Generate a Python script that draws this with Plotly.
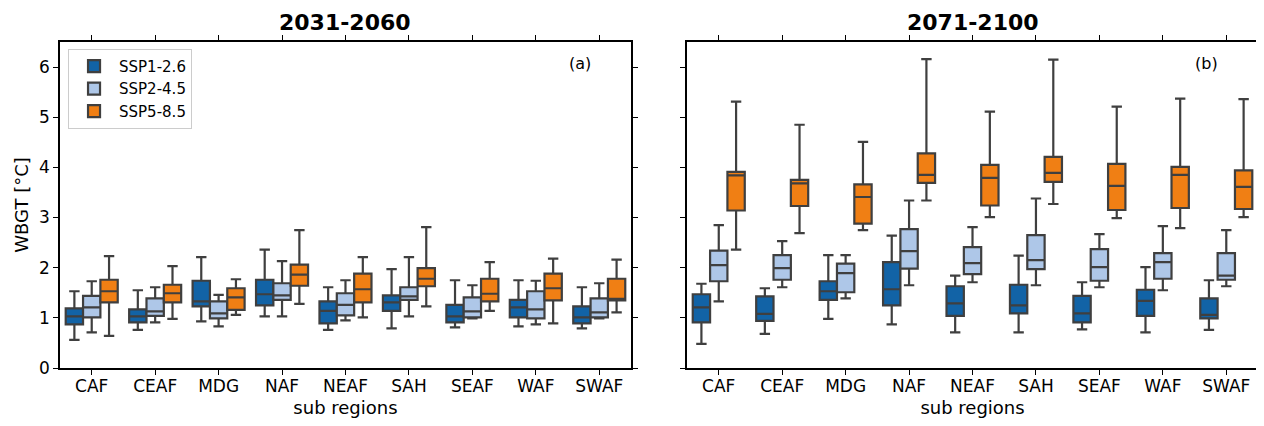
import plotly.graph_objects as go

regions = ["CAF", "CEAF", "MDG", "NAF", "NEAF", "SAH", "SEAF", "WAF", "SWAF"]
scenarios = ["SSP1-2.6", "SSP2-4.5", "SSP5-8.5"]
colors = ["#1263a6", "#aec7e8", "#f07f14"]
periods = ["2031-2060", "2071-2100"]

# ---- 2031-2060 ----
p1_ssp126_low = [0.56, 0.76, 0.93, 1.03, 0.76, 0.79, 0.81, 0.83, 0.79]
p1_ssp126_q1 = [0.87, 0.91, 1.23, 1.25, 0.89, 1.14, 0.91, 1.01, 0.89]
p1_ssp126_med = [1.03, 1.03, 1.33, 1.47, 1.14, 1.31, 1.03, 1.21, 1.01]
p1_ssp126_q3 = [1.19, 1.17, 1.74, 1.76, 1.33, 1.45, 1.26, 1.36, 1.23]
p1_ssp126_high = [1.53, 1.55, 2.21, 2.36, 1.61, 1.97, 1.75, 1.75, 1.61]

p1_ssp245_low = [0.71, 0.91, 0.83, 1.03, 0.95, 1.03, 0.99, 0.87, 0.99]
p1_ssp245_q1 = [1.01, 1.04, 0.99, 1.36, 1.05, 1.36, 1.01, 0.99, 1.01]
p1_ssp245_med = [1.21, 1.13, 1.09, 1.45, 1.26, 1.43, 1.13, 1.17, 1.11]
p1_ssp245_q3 = [1.44, 1.39, 1.33, 1.69, 1.49, 1.61, 1.41, 1.53, 1.39]
p1_ssp245_high = [1.73, 1.61, 1.46, 2.13, 1.75, 2.21, 1.65, 1.74, 1.69]

p1_ssp585_low = [0.64, 0.98, 1.06, 1.28, 1.01, 1.23, 1.14, 0.89, 1.11]
p1_ssp585_q1 = [1.31, 1.31, 1.16, 1.64, 1.31, 1.63, 1.33, 1.35, 1.35]
p1_ssp585_med = [1.53, 1.49, 1.41, 1.86, 1.57, 1.78, 1.48, 1.59, 1.38]
p1_ssp585_q3 = [1.76, 1.66, 1.59, 2.06, 1.88, 1.99, 1.78, 1.88, 1.78]
p1_ssp585_high = [2.23, 2.03, 1.77, 2.75, 2.21, 2.81, 2.11, 2.18, 2.16]

# ---- 2071-2100 ----
p2_ssp126_low = [0.48, 0.68, 0.98, 0.87, 0.71, 0.71, 0.77, 0.71, 0.76]
p2_ssp126_q1 = [0.91, 0.94, 1.36, 1.25, 1.04, 1.09, 0.91, 1.04, 0.99]
p2_ssp126_med = [1.21, 1.08, 1.53, 1.57, 1.29, 1.25, 1.09, 1.34, 1.06]
p2_ssp126_q3 = [1.47, 1.43, 1.73, 2.11, 1.63, 1.66, 1.44, 1.56, 1.39]
p2_ssp126_high = [1.68, 1.59, 2.25, 2.64, 1.84, 2.24, 1.71, 2.01, 1.75]

p2_ssp245_low = [1.33, 1.61, 1.39, 1.65, 1.71, 1.65, 1.61, 1.55, 1.63]
p2_ssp245_q1 = [1.73, 1.76, 1.51, 1.98, 1.87, 1.97, 1.74, 1.78, 1.76]
p2_ssp245_med = [2.05, 1.99, 1.89, 2.33, 2.09, 2.15, 2.01, 2.11, 1.84]
p2_ssp245_q3 = [2.34, 2.25, 2.08, 2.77, 2.41, 2.65, 2.37, 2.29, 2.29]
p2_ssp245_high = [2.85, 2.53, 2.25, 3.34, 2.81, 3.38, 2.67, 2.83, 2.75]

p2_ssp585_low = [2.36, 2.69, 2.75, 3.34, 3.01, 3.27, 2.99, 2.79, 3.01]
p2_ssp585_q1 = [3.14, 3.23, 2.88, 3.69, 3.24, 3.71, 3.15, 3.19, 3.17]
p2_ssp585_med = [3.84, 3.68, 3.41, 3.85, 3.79, 3.89, 3.63, 3.85, 3.61]
p2_ssp585_q3 = [3.91, 3.75, 3.66, 4.28, 4.05, 4.21, 4.07, 4.01, 3.94]
p2_ssp585_high = [5.31, 4.85, 4.51, 6.16, 5.11, 6.15, 5.21, 5.37, 5.36]

data = {
    0: [
        (p1_ssp126_low, p1_ssp126_q1, p1_ssp126_med, p1_ssp126_q3, p1_ssp126_high),
        (p1_ssp245_low, p1_ssp245_q1, p1_ssp245_med, p1_ssp245_q3, p1_ssp245_high),
        (p1_ssp585_low, p1_ssp585_q1, p1_ssp585_med, p1_ssp585_q3, p1_ssp585_high),
    ],
    1: [
        (p2_ssp126_low, p2_ssp126_q1, p2_ssp126_med, p2_ssp126_q3, p2_ssp126_high),
        (p2_ssp245_low, p2_ssp245_q1, p2_ssp245_med, p2_ssp245_q3, p2_ssp245_high),
        (p2_ssp585_low, p2_ssp585_q1, p2_ssp585_med, p2_ssp585_q3, p2_ssp585_high),
    ],
}

FONT = "DejaVu Sans"
EDGE = "#3f3f3f"

fig = go.Figure()
for p in range(2):
    xa = "x" if p == 0 else "x2"
    ya = "y" if p == 0 else "y2"
    for s, name in enumerate(scenarios):
        low, q1, med, q3, high = data[p][s]
        fig.add_trace(go.Box(
            name=name, x=regions, q1=q1, median=med, q3=q3,
            lowerfence=low, upperfence=high,
            boxpoints=False, fillcolor=colors[s],
            line=dict(color=EDGE, width=2.2), whiskerwidth=0.6,
            offsetgroup=str(s), legendgroup=name, showlegend=(p == 0),
            xaxis=xa, yaxis=ya, hoverinfo="skip",
        ))

axis_common = dict(showline=True, linecolor="black", linewidth=1.5, mirror="ticks",
                   ticks="outside", ticklen=5, tickwidth=1.2, tickcolor="black",
                   showgrid=False, zeroline=False,
                   tickfont=dict(family=FONT, size=17, color="black"))

fig.update_layout(
    width=1256, height=418,
    margin=dict(l=52, r=6, t=34, b=58, autoexpand=False),
    paper_bgcolor="white", plot_bgcolor="white",
    boxmode="group", boxgap=0.18, boxgroupgap=0.0,
    font=dict(family=FONT, size=17, color="black"),
    xaxis=dict(domain=[0, 0.4766], type="category", categoryorder="array",
               categoryarray=regions, ticklabelstandoff=-3,
               title=dict(text="sub regions", font=dict(family=FONT, size=18), standoff=6),
               **axis_common),
    xaxis2=dict(domain=[0.5234, 1.0], type="category", categoryorder="array",
                categoryarray=regions, anchor="y2", ticklabelstandoff=-3,
                title=dict(text="sub regions", font=dict(family=FONT, size=18), standoff=6),
                **axis_common),
    yaxis=dict(range=[0, 6.5], dtick=1, tick0=0,
               title=dict(text="WBGT [°C]", font=dict(family=FONT, size=18), standoff=6),
               **axis_common),
    yaxis2=dict(range=[0, 6.5], dtick=1, tick0=0, anchor="x2", matches="y",
                showticklabels=False, **axis_common),
    legend=dict(x=0.0067, y=0.979, xanchor="left", yanchor="top",
                bgcolor="rgba(255,255,255,0.85)", bordercolor="#cccccc", borderwidth=1,
                font=dict(family=FONT, size=15), tracegroupgap=0, itemwidth=40),
    annotations=[
        dict(text="<b>2031-2060</b>", xref="paper", yref="paper", x=0.2383, y=1.0,
             yshift=5, xanchor="center", yanchor="bottom", showarrow=False,
             font=dict(family=FONT, size=22)),
        dict(text="<b>2071-2100</b>", xref="paper", yref="paper", x=0.7617, y=1.0,
             yshift=5, xanchor="center", yanchor="bottom", showarrow=False,
             font=dict(family=FONT, size=22)),
        dict(text="(a)", xref="paper", yref="paper", x=0.434, y=0.935,
             xanchor="center", yanchor="middle", showarrow=False,
             font=dict(family=FONT, size=16)),
        dict(text="(b)", xref="paper", yref="paper", x=0.957, y=0.935,
             xanchor="center", yanchor="middle", showarrow=False,
             font=dict(family=FONT, size=16)),
    ],
)

fig.write_html("out.html")
